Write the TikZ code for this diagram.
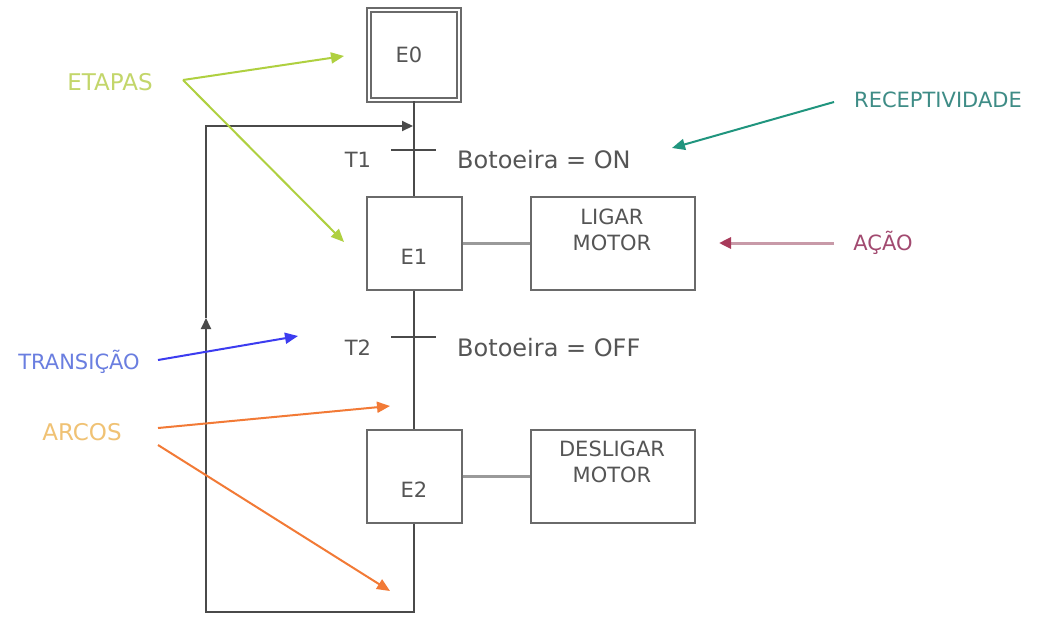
\documentclass[tikz,border=0pt]{standalone}
\usepackage{fontspec}
\setmainfont{DejaVu Sans}
\usetikzlibrary{arrows.meta}
\definecolor{linegray}{HTML}{4A4A4A}
\definecolor{boxgray}{HTML}{6A6A6A}
\definecolor{textgray}{HTML}{555555}
\definecolor{linkgray}{HTML}{9A9A9A}
\definecolor{etapacol}{HTML}{C3D66A}
\definecolor{etapaarrow}{HTML}{AFD040}
\definecolor{recepcol}{HTML}{3E8C86}
\definecolor{recarrow}{HTML}{20957E}
\definecolor{acaocol}{HTML}{A24A70}
\definecolor{acaoarrow}{HTML}{C89AA8}
\definecolor{acaotip}{HTML}{A83A5A}
\definecolor{transcol}{HTML}{6A7EE0}
\definecolor{transarrow}{HTML}{3C3CF0}
\definecolor{arcocol}{HTML}{F0C274}
\definecolor{arcoarrow}{HTML}{F27A36}
\begin{document}
\begin{tikzpicture}[x=1pt,y=-1pt,
  stepbox/.style={draw=boxgray,line width=2pt,minimum width=95pt,minimum height=93pt,inner sep=0pt},
  actbox/.style={draw=boxgray,line width=2pt,minimum width=164pt,minimum height=93pt,inner sep=0pt},
  gtext/.style={text=textgray,font=\fontsize{21}{25}\selectfont,inner sep=0pt},
  btext/.style={text=textgray,font=\fontsize{24}{28}\selectfont,inner sep=0pt},
  flow/.style={draw=linegray,line width=2pt},
  link/.style={draw=linkgray,line width=3pt},
  trbar/.style={draw=linegray,line width=2pt},
  lbl/.style={inner sep=0pt,font=\fontsize{21}{25}\selectfont},
  tip/.style={-{Triangle[length=13pt,width=11pt]}},
  looptip/.style={-{Triangle[length=11pt,width=10pt]}}
]
\useasboundingbox (0,0) rectangle (1038,638);
\fill[white] (0,0) rectangle (1038,638);

% steps
\node[stepbox,draw=boxgray,line width=2.4pt,double=white,double distance=1.8pt,minimum width=90pt,minimum height=90pt] (E0) at (414,55) {};
\node[gtext] (E0t) at (409,55) {E0};
\node[stepbox] (E1) at (414,243.5) {};
\node[gtext] (E1t) at ([yshift=-13pt]E1.center) {E1};
\node[stepbox] (E2) at (414,476) {};
\node[gtext] (E2t) at ([yshift=-14pt]E2.center) {E2};

% actions
\node[actbox] (A1) at (613,243.5) {};
\node[gtext] (A1a) at (612,217) {LIGAR};
\node[gtext] (A1b) at (612,243) {MOTOR};
\node[actbox] (A2) at (613,476) {};
\node[gtext] (A2a) at (612,449) {DESLIGAR};
\node[gtext] (A2b) at (612,475) {MOTOR};

\draw[link] (E1.east) -- (A1.west);
\draw[link] (E2.east) -- (A2.west);

% flow lines
\draw[flow] (E0.south) -- (E1.north);
\draw[flow] (E1.south) -- (E2.north);

% transitions
\coordinate (t1l) at (391,150);
\coordinate (t1r) at (436,150);
\draw[trbar] (t1l) -- (t1r);
\coordinate (t2l) at (391,337);
\coordinate (t2r) at (436,337);
\draw[trbar] (t2l) -- (t2r);
\node[gtext] (T1) at (358,160) {T1};
\node[gtext] (T2) at (358,348) {T2};
\node[btext,anchor=west] (R1) at (457,160) {Botoeira = ON};
\node[btext,anchor=west] (R2) at (457,348) {Botoeira = OFF};

% loop back
\coordinate (lb) at (414,612);
\coordinate (ll) at (206,612);
\coordinate (lm) at (206,318);
\coordinate (lt) at (206,126);
\coordinate (lr) at (414,126);
\draw[flow,looptip] (E2.south) -- (lb) -- (ll) -- (lm);
\draw[flow,looptip] (lm) -- (lt) -- ([xshift=-1pt]lr);

% annotation labels
\node[lbl,text=etapacol,font=\fontsize{23}{27}\selectfont] (ETAPAS) at (110,82) {ETAPAS};
\node[lbl,text=recepcol] (RECEP) at (938,100) {RECEPTIVIDADE};
\node[lbl,text=acaocol] (ACAO) at (883,243) {AÇÃO};
\node[lbl,text=transcol] (TRANS) at (79,362) {TRANSIÇÃO};
\node[lbl,text=arcocol,font=\fontsize{23}{27}\selectfont] (ARCOS) at (82,432) {ARCOS};

% annotation arrows
\coordinate (etS) at (183,80);
\coordinate (etA) at (344,56);
\coordinate (etB) at (344,242);
\draw[draw=etapaarrow,fill=etapaarrow,line width=2pt,tip] (etS) -- (etA);
\draw[draw=etapaarrow,fill=etapaarrow,line width=2pt,tip] (etS) -- (etB);

\coordinate (reS) at (834,102);
\coordinate (reE) at (672,148);
\draw[draw=recarrow,fill=recarrow,line width=2pt,tip] (reS) -- (reE);

\coordinate (acS) at (834,243);
\coordinate (acE) at (719,243);
\draw[draw=acaoarrow,line width=3pt,-{Triangle[length=12pt,width=11pt,color=acaotip]}] (acS) -- (acE);

\coordinate (trS) at (158,360);
\coordinate (trE) at (298,336);
\draw[draw=transarrow,fill=transarrow,line width=2pt,tip] (trS) -- (trE);

\coordinate (arS1) at (158,428);
\coordinate (arE1) at (390,406);
\coordinate (arS2) at (158,445);
\coordinate (arE2) at (390,591);
\draw[draw=arcoarrow,fill=arcoarrow,line width=2pt,tip] (arS1) -- (arE1);
\draw[draw=arcoarrow,fill=arcoarrow,line width=2pt,tip] (arS2) -- (arE2);
\end{tikzpicture}
\end{document}
